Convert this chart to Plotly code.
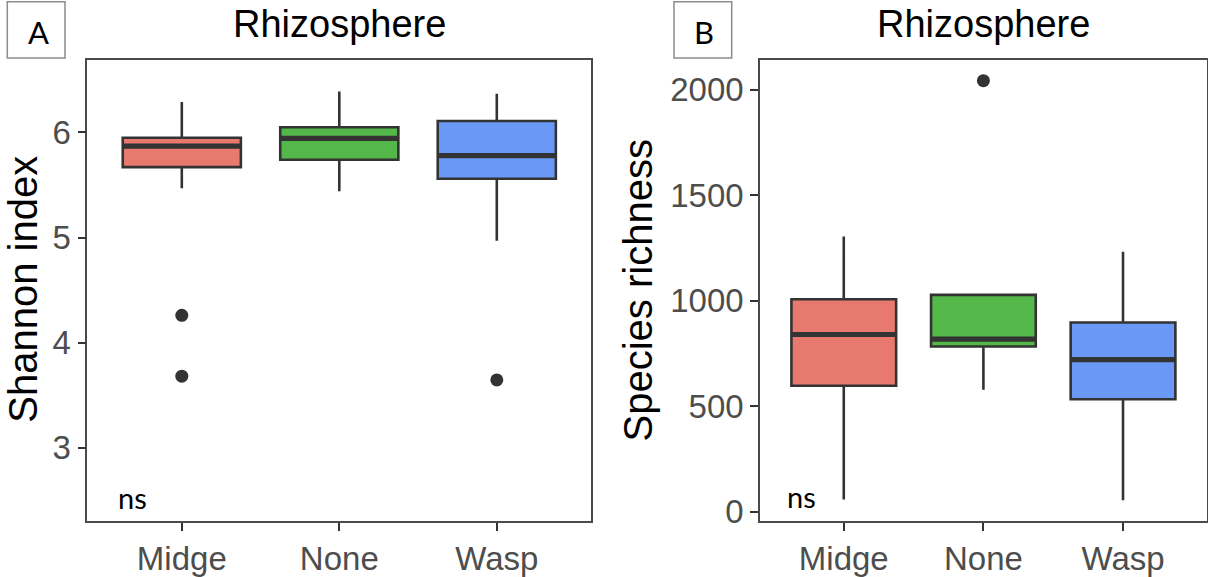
import plotly.graph_objects as go

# ---- data ----
groups = ["Midge", "None", "Wasp"]
positions = [1, 2, 3]
colors = ["#E8796F", "#54B74A", "#6A98F6"]

# Shannon index summary (whisker low, Q1, median, Q3, whisker high)
sh_low = [5.47, 5.44, 4.97]
sh_q1 = [5.67, 5.74, 5.56]
sh_med = [5.87, 5.945, 5.78]
sh_q3 = [5.95, 6.05, 6.11]
sh_high = [6.29, 6.39, 6.37]
sh_out_x = ["Midge", "Midge", "Wasp"]
sh_out_y = [4.26, 3.68, 3.645]

# Species richness summary
sr_low = [57, 577, 54]
sr_q1 = [596, 782, 532]
sr_med = [839, 817, 720]
sr_q3 = [1006, 1027, 896]
sr_high = [1304, 1034, 1231]
sr_out_x = ["None"]
sr_out_y = [2042]

shannon_ticks = [3, 4, 5, 6]
richness_ticks = [0, 500, 1000, 1500, 2000]

W, H = 1208, 577
BOX_W = 0.75
OUTLINE = "#333333"
MAIN_FONT = "Liberation Sans"
LABEL_FONT = "Lato"


def px(x):
    return x / W


def py(y):
    return 1 - y / H


fig = go.Figure()


def add_panel(xa, ya, low, q1, med, q3, high, out_x, out_y):
    for i, g in enumerate(groups):
        fig.add_trace(go.Box(
            x=[positions[i]], q1=[q1[i]], median=[med[i]], q3=[q3[i]],
            lowerfence=[low[i]], upperfence=[high[i]],
            width=BOX_W, whiskerwidth=0, boxpoints=False,
            fillcolor=colors[i], line=dict(color=OUTLINE, width=2.6),
            xaxis=xa, yaxis=ya, showlegend=False, name=g,
        ))
    # thicker median bars drawn on top of each box
    mx, my = [], []
    for i in range(len(groups)):
        mx += [positions[i] - BOX_W / 2, positions[i] + BOX_W / 2, None]
        my += [med[i], med[i], None]
    fig.add_trace(go.Scatter(
        x=mx, y=my, mode="lines", line=dict(color=OUTLINE, width=5.2),
        xaxis=xa, yaxis=ya, showlegend=False, hoverinfo="skip",
    ))
    fig.add_trace(go.Scatter(
        x=[positions[groups.index(g)] for g in out_x], y=out_y, mode="markers",
        marker=dict(color=OUTLINE, size=13),
        xaxis=xa, yaxis=ya, showlegend=False,
    ))


add_panel("x", "y", sh_low, sh_q1, sh_med, sh_q3, sh_high, sh_out_x, sh_out_y)
add_panel("x2", "y2", sr_low, sr_q1, sr_med, sr_q3, sr_high, sr_out_x, sr_out_y)

axis_common = dict(
    showline=True, mirror=True, linecolor="#4a4a4a", linewidth=1.6,
    showgrid=False, zeroline=False, ticks="outside", ticklen=8,
    tickwidth=1.6, tickcolor="#333333",
    tickfont=dict(family=MAIN_FONT, size=33, color="#4d4d4d"),
)

fig.update_layout(
    width=W, height=H, margin=dict(l=0, r=0, t=0, b=0),
    plot_bgcolor="white", paper_bgcolor="white",
    xaxis=dict(domain=[px(87.3), px(591.3)], range=[0.4, 3.6],
               tickvals=positions, ticktext=groups, anchor="y", **axis_common),
    yaxis=dict(domain=[py(531), py(61.5)], range=[2.303, 6.687],
               tickvals=shannon_ticks, anchor="x", **axis_common),
    xaxis2=dict(domain=[px(760), px(1206.8)], range=[0.4, 3.6],
                tickvals=positions, ticktext=groups, anchor="y2", **axis_common),
    yaxis2=dict(domain=[py(531), py(61.5)], range=[-44.2, 2138.5],
                tickvals=richness_ticks, anchor="x2", **axis_common),
)

annotations = [
    # panel titles
    dict(text="Rhizosphere", x=px(339.3), y=py(24), xref="paper", yref="paper",
         showarrow=False, font=dict(family=MAIN_FONT, size=38, color="black"),
         xanchor="center", yanchor="middle"),
    dict(text="Rhizosphere", x=px(983.5), y=py(24), xref="paper", yref="paper",
         showarrow=False, font=dict(family=MAIN_FONT, size=38, color="black"),
         xanchor="center", yanchor="middle"),
    # y-axis titles
    dict(text="Shannon index", x=px(23), y=py(295.4), xref="paper", yref="paper",
         showarrow=False, textangle=-90,
         font=dict(family=MAIN_FONT, size=40, color="black"),
         xanchor="center", yanchor="middle"),
    dict(text="Species richness", x=px(637.8), y=py(296.3), xref="paper", yref="paper",
         showarrow=False, textangle=-90,
         font=dict(family=MAIN_FONT, size=40, color="black"),
         xanchor="center", yanchor="middle"),
    # significance labels
    dict(text="ns", x=0.69, y=2.53, xref="x", yref="y", showarrow=False,
         font=dict(family=LABEL_FONT, size=29, color="black"),
         xanchor="center", yanchor="middle"),
    dict(text="ns", x=0.70, y=69, xref="x2", yref="y2", showarrow=False,
         font=dict(family=LABEL_FONT, size=29, color="black"),
         xanchor="center", yanchor="middle"),
    # panel letters
    dict(text="A", x=px(38), y=py(33), xref="paper", yref="paper", showarrow=False,
         font=dict(family=LABEL_FONT, size=31, color="black"),
         xanchor="center", yanchor="middle"),
    dict(text="B", x=px(704), y=py(33), xref="paper", yref="paper", showarrow=False,
         font=dict(family=LABEL_FONT, size=31, color="black"),
         xanchor="center", yanchor="middle"),
]
fig.update_layout(annotations=annotations)

for x0, x1 in [(7.3, 65), (674, 731.7)]:
    fig.add_shape(type="rect", xref="paper", yref="paper",
                  x0=px(x0), x1=px(x1), y0=py(59), y1=py(1.7),
                  line=dict(color="#8c8c8c", width=1.5), fillcolor="rgba(0,0,0,0)")

fig.write_html("out.html")
